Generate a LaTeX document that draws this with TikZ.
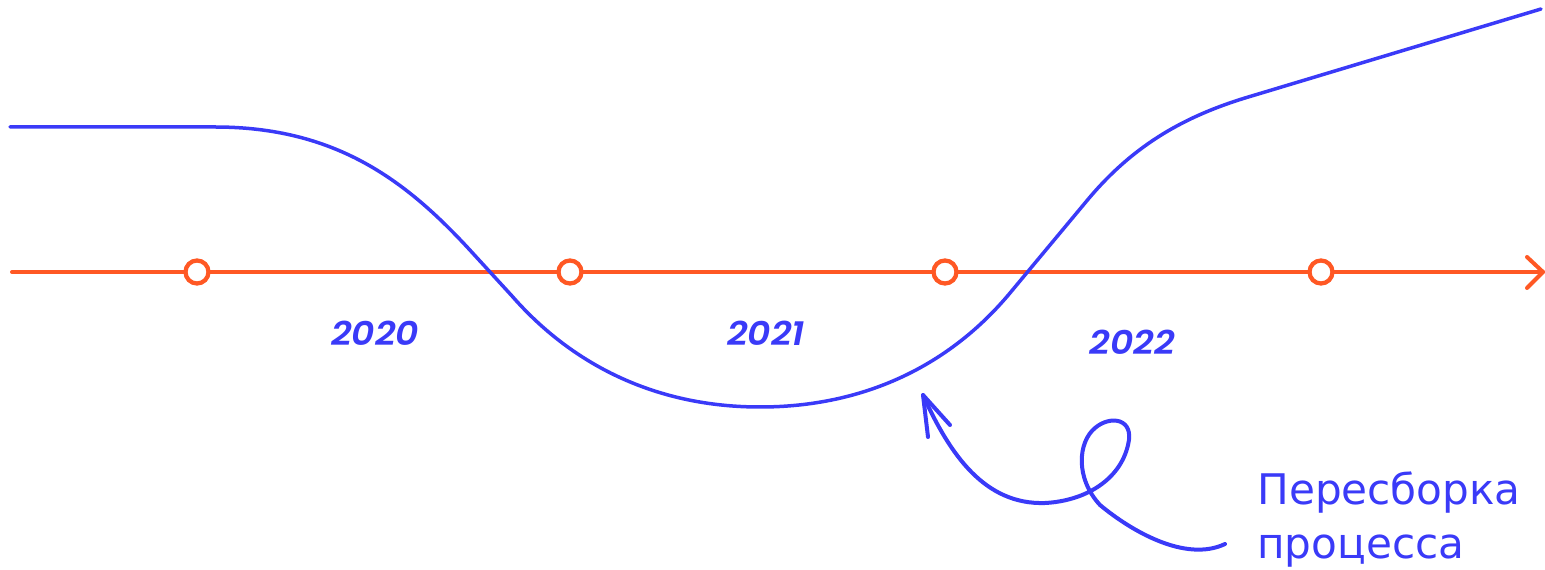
\documentclass[tikz,border=0pt]{standalone}
\usepackage{fontspec}
\newfontfamily\yearfont{Poppins SemiBold Italic}
\newfontfamily\labelfont{DejaVu Sans}
\definecolor{lineblue}{RGB}{58,58,248}
\definecolor{axisorange}{RGB}{255,88,36}
\tikzset{
  axisline/.style={draw=axisorange, line width=0.08cm, line cap=round, line join=round},
  yeardot/.style={circle, draw=axisorange, fill=white, line width=0.085cm, minimum size=0.46cm, inner sep=0pt},
  trend/.style={draw=lineblue, line width=0.07cm, line cap=round, line join=round},
  pointer/.style={draw=lineblue, line width=0.08cm, line cap=round, line join=round},
  yearlabel/.style={text=lineblue, font=\yearfont\fontsize{19pt}{22pt}\selectfont, inner sep=0pt},
  notelabel/.style={text=lineblue, font=\labelfont\fontsize{24pt}{31pt}\selectfont, align=left, inner sep=0pt}
}
\begin{document}
\begin{tikzpicture}[x=0.02cm, y=-0.02cm]
\useasboundingbox (0,0) rectangle (1545,570);
% axis
\coordinate (axstart) at (12,272);
\coordinate (axend) at (1543,272);
\coordinate (tipa) at (1527,257);
\coordinate (tipb) at (1527,288);
\draw[axisline] (axstart) -- (axend);
\draw[axisline] (tipa) -- (axend) -- (tipb);
\node[yeardot] (d1) at (197,272) {};
\node[yeardot] (d2) at (570,272) {};
\node[yeardot] (d3) at (945,272) {};
\node[yeardot] (d4) at (1321,272) {};
% year labels
\node[yearlabel] (y1) at (375,333) {\scalebox{1.08}[1]{2020}};
\node[yearlabel] (y2) at (766,333) {\scalebox{1.08}[1]{2021}};
\node[yearlabel] (y3) at (1132,342) {\scalebox{1.08}[1]{2022}};
% trend curve
\coordinate (t0) at (10,127);
\coordinate (t1) at (215,127);
\coordinate (t2) at (468,248);
\coordinate (t3) at (512,296);
\coordinate (t4) at (760,407);
\coordinate (t5) at (1010,293);
\coordinate (t6) at (1085,203);
\coordinate (t7) at (1245,98);
\coordinate (t8) at (1541,9);
\draw[trend] (t0) -- (t1) .. controls (335,127) and (405,180) .. (t2) -- (t3)
  .. controls (575,368) and (660,407) .. (t4)
  .. controls (865,407) and (950,365) .. (t5) -- (t6)
  .. controls (1130,148) and (1180,118) .. (t7) -- (t8);
% note and pointer
\node[notelabel, anchor=north west] (note) at (1257,471) {Пересборка\\процесса};
\coordinate (ptip) at (923,395);
\coordinate (parma) at (950,425);
\coordinate (parmb) at (928,437);
\coordinate (pend) at (1225,544);
\draw[pointer] (ptip) .. controls (950,455) and (985,505) .. (1045,503)
  .. controls (1085,501) and (1120,480) .. (1128,445)
  .. controls (1135,418) and (1110,415) .. (1095,428)
  .. controls (1078,442) and (1075,478) .. (1100,505)
  .. controls (1130,530) and (1185,563) .. (pend);
\draw[pointer] (parma) -- (ptip) -- (parmb);
\end{tikzpicture}
\end{document}
